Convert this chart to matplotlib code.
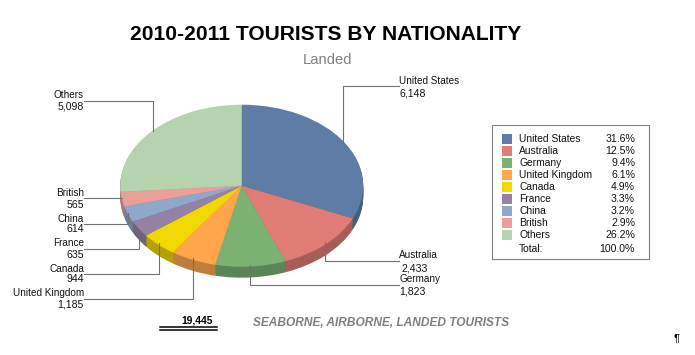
from matplotlib import pyplot as plt
from matplotlib.patches import Rectangle

plt.rcParams['font.family'] = ['Liberation Sans', 'DejaVu Sans']

countries = ["United States", "Australia", "Germany", "United Kingdom", "Canada",
             "France", "China", "British", "Others"]
tourists = [6148, 2433, 1823, 1185, 944, 635, 614, 565, 5098]
percents = ["31.6%", "12.5%", "9.4%", "6.1%", "4.9%", "3.3%", "3.2%", "2.9%", "26.2%"]
total_tourists = "19,445"
total_percent = "100.0%"

colors = ["#5f7ca6", "#e07b75", "#7bb274", "#ffa64d", "#f0d800",
          "#9681a6", "#8ea8cc", "#eb9f98", "#b5d3ae"]
side_colors = ["#475d7c", "#a85c58", "#5c8557", "#c07c3a", "#b4a200",
               "#70617c", "#6a7e99", "#b07772", "#889e83"]

# pie geometry in pixels
W, H = 695, 355
CX, CY = 241.7, 185.7
RX, RY = 121.5, 81
DEPTH = 11

# label name, x of text, y of name, y of number, leader line points
labels = [
    ("Others", 84, 95, 106.5, [(84, 100.5), (152.7, 100.5), (152.7, 131)]),
    ("British", 84, 193.5, 204.5, [(84, 198), (122, 198)]),
    ("China", 84, 218.5, 229.5, [(84, 223.5), (128.3, 223.5), (128.3, 213)]),
    ("France", 84, 243, 254.5, [(84, 248.5), (139, 248.5), (139, 233)]),
    ("Canada", 84, 268.5, 279.5, [(84, 273.5), (158.7, 273.5), (158.7, 243)]),
    ("United Kingdom", 84, 293, 304.5, [(84, 298.5), (193.3, 298.5), (193.3, 258)]),
    ("United States", 399, 81, 93, [(399, 86), (343.3, 86), (343.3, 142)]),
    ("Australia", 399, 254.5, 268.5, [(399, 261), (325.3, 261), (325.3, 242)]),
    ("Germany", 399, 279.5, 291.5, [(399, 284.5), (250.3, 284.5), (250.3, 265)]),
]

fig = plt.figure(figsize=(W / 100, H / 100), dpi=100)

# the pie axes fill the figure, one unit is one radius
pie_ax = fig.add_axes([0, 0, 1, 1])
for d in range(DEPTH, 0, -1):
    pie_ax.pie(tourists, colors=side_colors, startangle=90, counterclock=False,
               center=(0, -d / RY))
pie_ax.pie(tourists, colors=colors, startangle=90, counterclock=False)
pie_ax.set_aspect('auto')
pie_ax.set_xlim(-CX / RX, (W - CX) / RX)
pie_ax.set_ylim((CY - H) / RY, CY / RY)
pie_ax.axis('off')

# everything else is placed in pixels on top
ax = fig.add_axes([0, 0, 1, 1])
ax.set_xlim(0, W)
ax.set_ylim(H, 0)
ax.axis('off')
ax.patch.set_alpha(0)

ax.text(325.5, 34, "2010-2011 TOURISTS BY NATIONALITY", fontsize=15.1, fontweight='bold',
        ha='center', va='center', color='black')
ax.text(327.5, 59.5, "Landed", fontsize=10.6, ha='center', va='center', color='#808080')

# leader lines and labels
for name, x, y_name, y_num, points in labels:
    xs = [p[0] for p in points]
    ys = [p[1] for p in points]
    ax.plot(xs, ys, color='#707070', lw=0.8, solid_joinstyle='miter')
    value = tourists[countries.index(name)]
    ha = 'right' if x < 200 else 'left'
    num_x = x + 2 if name == "Australia" else x
    ax.text(x, y_name, name, fontsize=7.2, ha=ha, va='center', color='#111111')
    ax.text(num_x, y_num, f"{value:,}", fontsize=7.6, ha=ha, va='center', color='#111111')

# legend box
ax.add_patch(Rectangle((491.5, 125), 157.5, 134, facecolor='white', edgecolor='#808080', lw=0.8))
for i, name in enumerate(countries):
    y = 139 + i * 12
    ax.add_patch(Rectangle((502, y - 5), 10, 10, facecolor=colors[i], edgecolor='none'))
    ax.text(519, y + 0.5, name, fontsize=7.4, ha='left', va='center', color='#111111')
    ax.text(635, y + 0.5, percents[i], fontsize=7.6, ha='right', va='center', color='#111111')
ax.text(519, 249, "Total:", fontsize=7.4, ha='left', va='center', color='#111111')
ax.text(635, 249, total_percent, fontsize=7.6, ha='right', va='center', color='#111111')

# total under the pie
ax.text(213, 320.5, total_tourists, fontsize=7.4, fontweight='bold', ha='right', va='center',
        color='black')
ax.plot([160, 217], [326.5, 326.5], color='black', lw=1.1)
ax.plot([160, 217], [329.5, 329.5], color='black', lw=1.1)
ax.text(253, 322.5, "SEABORNE, AIRBORNE, LANDED TOURISTS", fontsize=8.55, fontweight='bold',
        fontstyle='italic', ha='left', va='center', color='#7f7f7f')
ax.text(676, 339, "¶", fontsize=8, ha='center', va='center', color='black')

fig.savefig("out.png", dpi=100)
